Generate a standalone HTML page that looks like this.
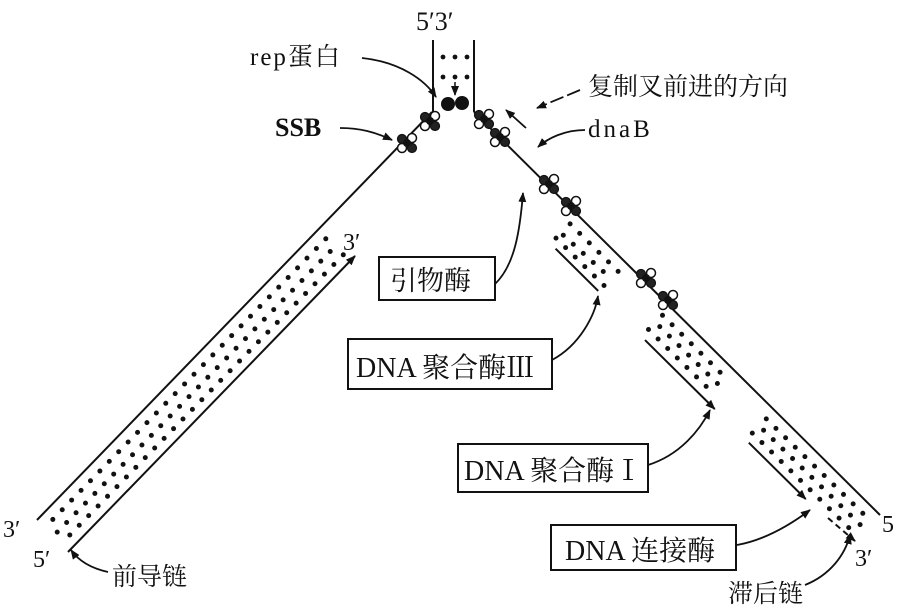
<!DOCTYPE html>
<html><head><meta charset="utf-8"><style>
html,body{margin:0;padding:0;background:#fff;}
svg{display:block}
text{font-family:"Liberation Serif","Noto Serif CJK SC","Noto Sans CJK SC",serif;fill:#111}
</style></head><body>
<svg width="907" height="611" viewBox="0 0 907 611" xmlns="http://www.w3.org/2000/svg">
<defs>
<marker id="ar" markerWidth="10" markerHeight="8" refX="9" refY="4" orient="auto" markerUnits="userSpaceOnUse"><path d="M0,0 L10,4 L0,8 Z" fill="#111"/></marker>
<g id="ssb"><circle cx="-5" cy="-4" r="4.5" fill="#222" stroke="#111" stroke-width="1.2"/><circle cx="5" cy="-5" r="4.5" fill="#fff" stroke="#111" stroke-width="1.5"/><circle cx="5" cy="5" r="4.5" fill="#222" stroke="#111" stroke-width="1.2"/><circle cx="-5" cy="5" r="4.5" fill="#fff" stroke="#111" stroke-width="1.5"/><circle cx="0" cy="0" r="4" fill="#111"/></g>
</defs>
<g stroke="#111" stroke-width="2" fill="none">
<line x1="433" y1="40" x2="433" y2="112"/>
<line x1="474" y1="40" x2="474" y2="112"/>
<line x1="432" y1="112" x2="37" y2="520"/>
<line x1="474" y1="112" x2="880" y2="515"/>
<line x1="68" y1="552" x2="355" y2="256" marker-end="url(#ar)"/>
<line x1="555.6" y1="248.7" x2="598.2" y2="290.9"/>
<line x1="645" y1="340.1" x2="714.7" y2="409" marker-end="url(#ar)"/>
<line x1="748.8" y1="442.7" x2="805.7" y2="499" marker-end="url(#ar)"/>
<line x1="828" y1="518" x2="855" y2="541" stroke-dasharray="6,4" marker-end="url(#ar)"/>
</g>
<g stroke="#111" stroke-width="5" stroke-linecap="round" stroke-dasharray="0,13.5" fill="none">
<line x1="325.8" y1="238.8" x2="47.4" y2="525"/>
<line x1="330.2" y1="251.5" x2="56" y2="533.4"/>
<line x1="343.3" y1="254.8" x2="63.9" y2="541"/>
<line x1="570.1" y1="223.9" x2="619.9" y2="273.1"/>
<line x1="563.3" y1="235.2" x2="612.8" y2="280.2"/>
<line x1="556" y1="238.1" x2="605.8" y2="287.3"/>
<line x1="662.5" y1="315.3" x2="726.5" y2="378.6"/>
<line x1="659.8" y1="326.6" x2="719.5" y2="385.6"/>
<line x1="648.5" y1="329.5" x2="712.5" y2="392.7"/>
<line x1="766.3" y1="418.9" x2="867.3" y2="517.7"/>
<line x1="763.6" y1="430.2" x2="860.3" y2="524.8"/>
<line x1="752.3" y1="433.1" x2="853.2" y2="532"/>
</g>
<circle cx="448" cy="104" r="7" fill="#111"/>
<circle cx="462" cy="103" r="7" fill="#111"/>
<g fill="#111"><circle cx="443" cy="57" r="2.4"/><circle cx="455" cy="57" r="2.4"/><circle cx="467" cy="57" r="2.4"/><circle cx="443" cy="77" r="2.4"/><circle cx="455" cy="77" r="2.4"/><circle cx="467" cy="77" r="2.4"/></g>
<line x1="455" y1="82" x2="455" y2="95" stroke="#111" stroke-width="1.5" marker-end="url(#ar)"/>
<use href="#ssb" x="430" y="121"/><use href="#ssb" x="407" y="143"/>
<use href="#ssb" x="484" y="119"/><use href="#ssb" x="500" y="137"/>
<use href="#ssb" x="549" y="184"/><use href="#ssb" x="571" y="206"/>
<use href="#ssb" x="646" y="278"/><use href="#ssb" x="668" y="300"/>
<text x="416" y="30" font-size="26">5′3′</text>
<text x="250" y="65" font-size="25" letter-spacing="2">rep蛋白</text>
<text x="588" y="95" font-size="25">复制叉前进的方向</text>
<text x="588" y="137" font-size="25" letter-spacing="3">dnaB</text>
<text x="275" y="136" font-size="26" font-family="Liberation Sans, sans-serif" font-weight="bold">SSB</text>
<text x="343" y="250" font-size="24">3′</text>
<text x="3" y="537" font-size="24">3′</text>
<text x="33" y="567" font-size="24">5′</text>
<text x="882" y="532" font-size="24">5</text>
<text x="855" y="566" font-size="24">3′</text>
<text x="112" y="585" font-size="25">前导链</text>
<text x="728" y="602" font-size="25">滞后链</text>
<g stroke="#111" stroke-width="2" fill="none">
<rect x="379" y="257" width="116" height="43"/>
<rect x="348" y="339" width="204" height="50"/>
<rect x="458" y="444" width="190" height="48"/>
<rect x="551" y="525" width="185" height="45"/>
</g>
<text x="390" y="290" font-size="27">引物酶</text>
<text x="356" y="377" font-size="28">DNA 聚合酶Ⅲ</text>
<text x="464" y="480" font-size="28">DNA 聚合酶Ⅰ</text>
<text x="565" y="560" font-size="28">DNA 连接酶</text>
<g stroke="#111" stroke-width="1.8" fill="none" marker-end="url(#ar)">
<path d="M362,58 C400,62 425,80 436,97"/>
<path d="M580,90 L537,108" stroke-dasharray="14,4"/>
<path d="M526,128 L506,110"/>
<path d="M585,130 C565,130 548,138 538,147"/>
<path d="M340,128 C360,128 375,132 392,140"/>
<path d="M495,284 C515,265 520,230 523,193"/>
<path d="M552,360 C580,345 595,315 598,296"/>
<path d="M648,465 C680,455 700,430 710,410"/>
<path d="M737,545 C765,540 790,525 810,510"/>
<path d="M805,585 C830,575 845,555 850,535"/>
<path d="M108,572 C90,568 78,560 71,550"/>
</g>
</svg>
</body></html>
